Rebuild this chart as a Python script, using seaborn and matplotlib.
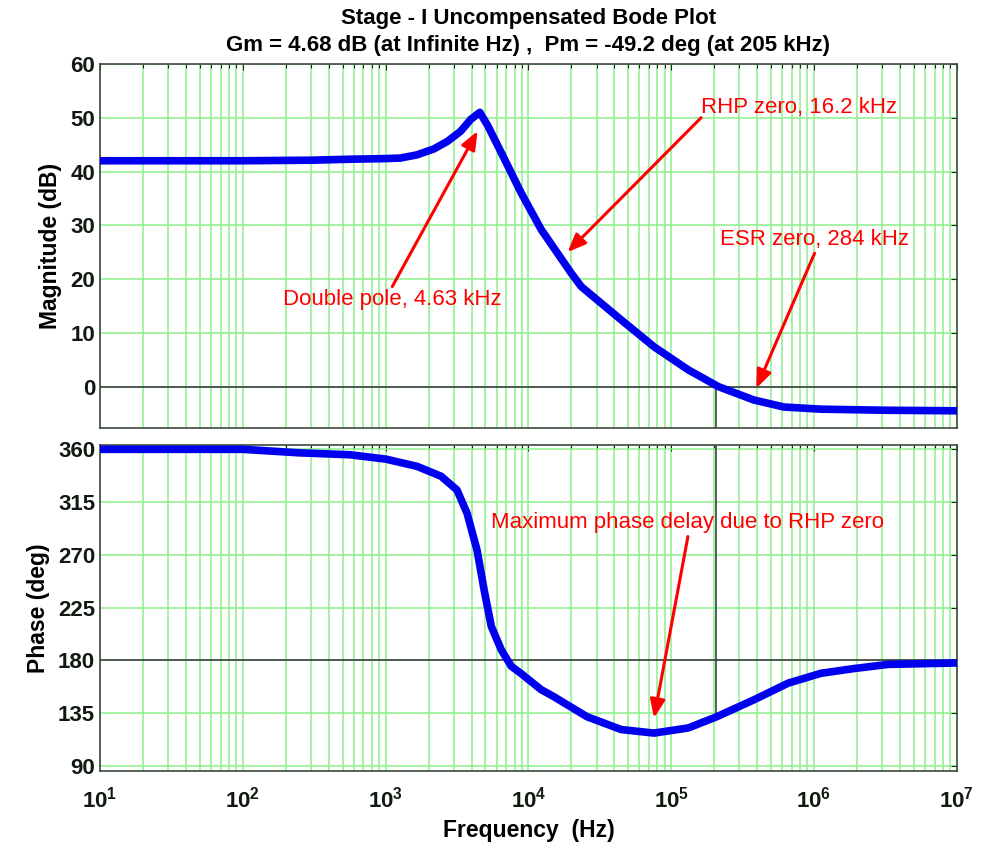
import numpy as np
import pandas as pd
import matplotlib
matplotlib.use('Agg')
import matplotlib.pyplot as plt
import seaborn as sns
from matplotlib.ticker import FixedLocator, FixedFormatter, LogLocator, NullFormatter

# DATA
mag_freq = [10, 100, 300, 600, 1000, 1270, 1660, 2180, 2710, 3360, 3950, 4570,
            5200, 6460, 8910, 12300, 19950, 23440, 44700, 75900, 132000, 214000,
            380000, 617000, 1120000, 3160000, 1e7]
mag_db = [42.0, 42.0, 42.1, 42.3, 42.4, 42.5, 43.1, 44.2, 45.6, 47.5, 49.7, 51.0,
          48.5, 43.5, 36.0, 29.2, 21.1, 18.6, 12.4, 7.4, 3.1, 0.0,
          -2.5, -3.8, -4.2, -4.4, -4.5]

ph_freq = [10, 100, 250, 560, 1000, 1660, 2450, 3160, 3720, 4370, 4900, 5500,
           6460, 7590, 8910, 12300, 15100, 25700, 44700, 75900, 131800, 209000,
           380000, 660000, 1120000, 1900000, 3310000, 1e7]
ph_deg = [360.0, 360.0, 357.0, 355.4, 351.7, 345.5, 337.0, 325.4, 305.5, 274.0, 240.0, 209.0,
          189.0, 175.0, 168.7, 155.0, 149.0, 132.0, 121.0, 118.0, 122.4, 132.0,
          146.4, 160.6, 169.0, 173.0, 176.6, 177.8]

pm_freq = 205e3
pm_phase = 130.8

decades = [1e1, 1e2, 1e3, 1e4, 1e5, 1e6, 1e7]
decade_labels = [r'$\mathbf{10^{%d}}$' % k for k in range(1, 8)]
mag_ticks = [0, 10, 20, 30, 40, 50, 60]
ph_ticks = [90, 135, 180, 225, 270, 315, 360]

# annotations: (text, text xy, arrow tip xy)
mag_notes = [
    ('Double pole, 4.63 kHz', (1114, 18.6), (4405, 47.5)),
    ('RHP zero, 16.2 kHz', (162000, 50.0), (18800, 25.0)),
    ('ESR zero, 284 kHz', (1.01e6, 24.8), (395000, -0.3)),
]
ph_notes = [
    ('Maximum phase delay due to RHP zero', (131000, 285.6), (75900, 131.0)),
]

sns.set_style('white')
plt.rcParams['font.family'] = ['Liberation Sans', 'DejaVu Sans']
plt.rcParams['text.color'] = 'black'
plt.rcParams['axes.labelcolor'] = 'black'
plt.rcParams['xtick.color'] = 'black'
plt.rcParams['ytick.color'] = 'black'
plt.rcParams['mathtext.fontset'] = 'custom'
plt.rcParams['mathtext.rm'] = 'Liberation Sans'
plt.rcParams['mathtext.bf'] = 'Liberation Sans:bold'

mag_df = pd.DataFrame({'freq': mag_freq, 'mag': mag_db})
ph_df = pd.DataFrame({'freq': ph_freq, 'phase': ph_deg})

fig = plt.figure(figsize=(10.01, 8.46), dpi=100)
ax1 = fig.add_axes([0.0999, 0.4941, 0.8559, 0.4303])
ax2 = fig.add_axes([0.0999, 0.0887, 0.8559, 0.3853])

grid_c = '#8cf08c'
frame_c = '#3c4a3c'

for ax in (ax1, ax2):
    ax.set_xscale('log')
    ax.set_xlim(10, 1e7)
    ax.grid(True, which='major', axis='both', color=grid_c, lw=1.1)
    ax.grid(True, which='minor', axis='x', color=grid_c, lw=1.1)
    ax.set_axisbelow(True)
    ax.xaxis.set_major_locator(FixedLocator(decades))
    ax.xaxis.set_minor_locator(LogLocator(base=10, subs=np.arange(2, 10), numticks=20))
    ax.xaxis.set_minor_formatter(NullFormatter())
    ax.tick_params(which='both', direction='in', top=True, right=True,
                   color='#222222', labelcolor='#101a10', labelsize=16)
    ax.tick_params(which='major', length=4, width=0.8)
    ax.tick_params(which='minor', length=3, width=0.8)
    ax.tick_params(axis='x', which='major', pad=11)
    for s in ax.spines.values():
        s.set_color(frame_c)
        s.set_linewidth(1.2)

# Magnitude
ax1.axhline(0, color='#404040', lw=1.2, zorder=2)
ax1.vlines(pm_freq, -7.7, 0, color='#404040', lw=1.2, zorder=2)
sns.lineplot(data=mag_df, x='freq', y='mag', ax=ax1, color='#0000ee', lw=5.5,
             sort=False, zorder=3)
ax1.set_ylim(-7.7, 60)
ax1.set_yticks(mag_ticks)
ax1.set_yticklabels([str(t) for t in mag_ticks], fontweight='bold', fontsize=16)
ax1.set_xticklabels([])
ax1.set_xlabel('')
ax1.set_ylabel('Magnitude (dB)', fontsize=16.5, fontweight='bold', labelpad=6)
ax1.set_title('Stage - I Uncompensated Bode Plot\n'
              'Gm = 4.68 dB (at Infinite Hz) ,  Pm = -49.2 deg (at 205 kHz)',
              fontsize=16, fontweight='bold', pad=9, linespacing=1.4, color='black')

# Phase
ax2.axhline(180, color='#404040', lw=1.2, zorder=2)
ax2.vlines(pm_freq, pm_phase, 363.7, color='#404040', lw=1.2, zorder=2)
sns.lineplot(data=ph_df, x='freq', y='phase', ax=ax2, color='#0000ee', lw=5.5,
             sort=False, zorder=3)
ax2.set_ylim(85.7, 363.7)
ax2.set_yticks(ph_ticks)
ax2.set_yticklabels([str(t) for t in ph_ticks], fontweight='bold', fontsize=16)
ax2.xaxis.set_major_formatter(FixedFormatter(decade_labels))
ax2.set_xlabel('Frequency  (Hz)', fontsize=16.5, fontweight='bold', labelpad=5)
ax2.set_ylabel('Phase (deg)', fontsize=16.5, fontweight='bold', labelpad=6)

arrow = dict(arrowstyle='-|>,head_length=1.1,head_width=0.45', color='red', lw=2.2,
             shrinkA=0, shrinkB=0)
for txt, xyt, xy in mag_notes:
    ax1.annotate('', xy=xy, xytext=xyt, arrowprops=arrow, zorder=4)
ax1.text(1114, 18.2, mag_notes[0][0], color='red', fontsize=16, ha='center', va='top')
ax1.text(162000, 50.0, mag_notes[1][0], color='red', fontsize=16, ha='left', va='bottom')
ax1.text(1.01e6, 25.4, mag_notes[2][0], color='red', fontsize=16, ha='center', va='bottom')
for txt, xyt, xy in ph_notes:
    ax2.annotate('', xy=xy, xytext=xyt, arrowprops=arrow, zorder=4)
    ax2.text(xyt[0], xyt[1] + 3, txt, color='red', fontsize=16, ha='center', va='bottom')

fig.savefig('out.png', dpi=100)
